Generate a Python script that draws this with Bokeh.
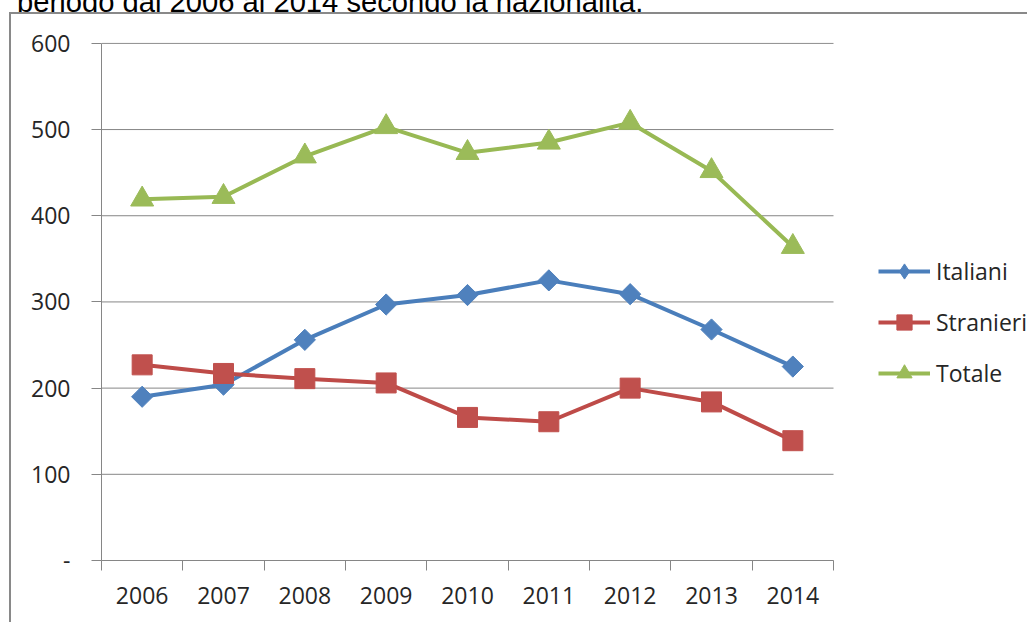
import math
from bokeh.plotting import figure
from bokeh.layouts import column
from bokeh.models import Range1d, FixedTicker, Legend, LegendItem, Div
from bokeh.embed import file_html
from bokeh.resources import INLINE

years = ["2006", "2007", "2008", "2009", "2010", "2011", "2012", "2013", "2014"]
italiani = [190, 204, 256, 297, 308, 325, 309, 268, 225]
stranieri = [227, 217, 211, 206, 166, 161, 200, 184, 139]
totale = [419, 422, 469, 503, 473, 485, 508, 452, 364]
y_ticks = [0, 100, 200, 300, 400, 500, 600]
y_tick_labels = ["-", "100", "200", "300", "400", "500", "600"]
title_text = "periodo dal 2006 al 2014 secondo la nazionalità."

n = len(years)
x = [i + 0.5 for i in range(n)]

GRAY = "#868686"
BORDER = "#898989"
TXT = "#262626"

# plot area spans 732 px for the categories; the frame continues to the right
# (928 px) so that the legend can sit inside it without being clipped
p = figure(width=1018, height=610,
           x_range=Range1d(0, n * 928 / 732), y_range=Range1d(0, 601),
           output_backend="svg", toolbar_location=None,
           min_border_left=90, min_border_right=0,
           min_border_top=28, min_border_bottom=64,
           outline_line_color=None,
           styles={"margin-left": "9px",
                   "border-left": f"2px solid {BORDER}",
                   "border-top": f"2px solid {BORDER}"})

# axes
p.xaxis.bounds = (0, n)
p.xaxis.ticker = FixedTicker(ticks=x, minor_ticks=list(range(n + 1)))
p.xaxis.major_label_overrides = {xx: yr for xx, yr in zip(x, years)}
p.xaxis.major_tick_out = 0
p.xaxis.major_tick_in = 0
p.xaxis.minor_tick_out = 10
p.xaxis.minor_tick_in = 0
p.xaxis.minor_tick_line_color = GRAY
p.xaxis.axis_line_color = GRAY
p.xaxis.major_label_standoff = 16

p.yaxis.bounds = (0, 600)
p.yaxis.ticker = FixedTicker(ticks=y_ticks)
p.yaxis.major_label_overrides = {t: l for t, l in zip(y_ticks, y_tick_labels)}
p.yaxis.major_tick_out = 10
p.yaxis.major_tick_in = 0
p.yaxis.major_tick_line_color = GRAY
p.yaxis.minor_tick_line_color = None
p.yaxis.axis_line_color = GRAY
p.yaxis.major_label_standoff = 21

for ax in (p.xaxis, p.yaxis):
    ax.major_label_text_font = "Open Sans"
    ax.major_label_text_font_size = "23px"
    ax.major_label_text_color = TXT

p.xgrid.grid_line_color = None
p.ygrid.grid_line_color = None
# horizontal gridlines limited to the category area
p.segment(x0=[0] * len(y_ticks), x1=[n] * len(y_ticks), y0=y_ticks, y1=y_ticks,
          line_color=GRAY, line_width=1)

series = [
    ("Italiani", italiani, "#4A7EBB", "#4F81BD",
     dict(marker="square", angle=math.pi / 4, size=15), "diamond"),
    ("Stranieri", stranieri, "#BE4B48", "#C0504D", dict(marker="square", size=20), None),
    ("Totale", totale, "#98B954", "#9BBB59", dict(marker="triangle", size=23), None),
]

items = []
for name, vals, lc, mc, mk, legend_marker in series:
    l = p.line(x, vals, line_color=lc, line_width=4)
    s = p.scatter(x, vals, fill_color=mc, line_color=mc, line_width=1, **mk)
    if legend_marker:
        s_leg = p.scatter(x, vals, marker=legend_marker, size=15,
                          fill_color=mc, line_color=mc, visible=False)
        items.append(LegendItem(label=name, renderers=[l, s_leg]))
    else:
        items.append(LegendItem(label=name, renderers=[l, s]))

legend = Legend(items=items, location=(777, 168), orientation="vertical",
                glyph_width=52, glyph_height=38, label_height=38, spacing=13,
                padding=0, margin=0, label_standoff=6,
                border_line_color=None, background_fill_alpha=0,
                label_text_font="Open Sans", label_text_font_size="23px",
                label_text_color=TXT)
p.add_layout(legend, "center")

caption = Div(text=f'<div style="margin-top:-16.5px; margin-left:17px; white-space:nowrap; '
                   f'font-family:\'Liberation Sans\'; font-size:29.2px; line-height:29px; color:#000;">'
                   f'{title_text}</div>',
              width=1029, height=12, margin=0,
              styles={"overflow": "hidden"})

layout = column(caption, p, spacing=0)

open("out.html", "w").write(file_html(layout, INLINE))
